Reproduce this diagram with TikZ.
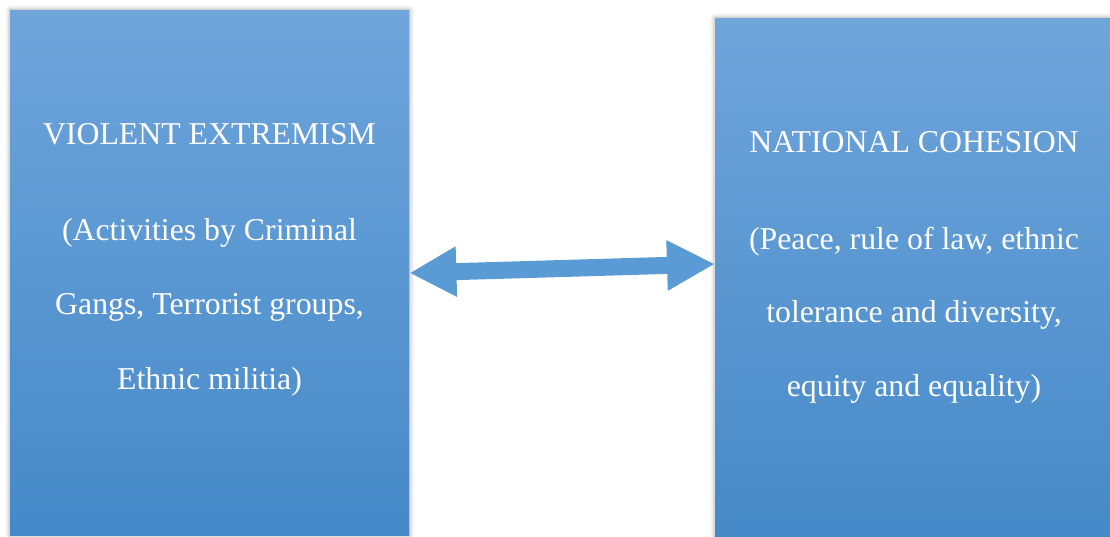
\documentclass[tikz,border=0pt]{standalone}
\usepackage{fontspec}
\setmainfont{Liberation Serif}
\usetikzlibrary{arrows.meta,shadows.blur}
\definecolor{boxtop}{HTML}{6FA5DB}
\definecolor{boxbot}{HTML}{4589C8}
\definecolor{arrowblue}{HTML}{5B9BD5}
\tikzset{
  bigbox/.style={rectangle, anchor=north west, inner sep=0pt, top color=boxtop, bottom color=boxbot, draw=none,
    blur shadow={shadow xshift=0pt, shadow yshift=0pt, shadow blur radius=5pt, shadow opacity=40}},
  boxtext/.style={text=white, font=\fontsize{31.8}{32}\selectfont, inner sep=0pt, anchor=base},
  linkarrow/.style={draw=arrowblue, line width=17pt, {Triangle[length=47pt,width=47pt]}-{Triangle[length=48pt,width=47pt]}}
}
\begin{document}
\begin{tikzpicture}[x=1pt,y=-1pt]
\useasboundingbox (0,0) rectangle (1110,536);
\clip (0,0) rectangle (1110,536);
\node[bigbox, minimum width=399pt, minimum height=525pt] (L) at (10,10) {};
\node[bigbox, minimum width=399pt, minimum height=530pt] (R) at (715,18) {};
\node[boxtext] (l1) at (209.5,144) {VIOLENT EXTREMISM};
\node[boxtext] (l2) at (209.5,240) {(Activities by Criminal};
\node[boxtext] (l3) at (209.5,314) {Gangs, Terrorist groups,};
\node[boxtext] (l4) at (209.5,389) {Ethnic militia)};
\node[boxtext] (r1) at (914,152) {NATIONAL COHESION};
\node[boxtext] (r2) at (914,249) {(Peace, rule of law, ethnic};
\node[boxtext] (r3) at (914,322) {tolerance and diversity,};
\node[boxtext] (r4) at (914,396) {equity and equality)};
\coordinate (la) at (L.east |- 0,273);
\coordinate (ra) at (R.west |- 0,264);
\draw[linkarrow] (la) -- (ra);
\end{tikzpicture}
\end{document}
